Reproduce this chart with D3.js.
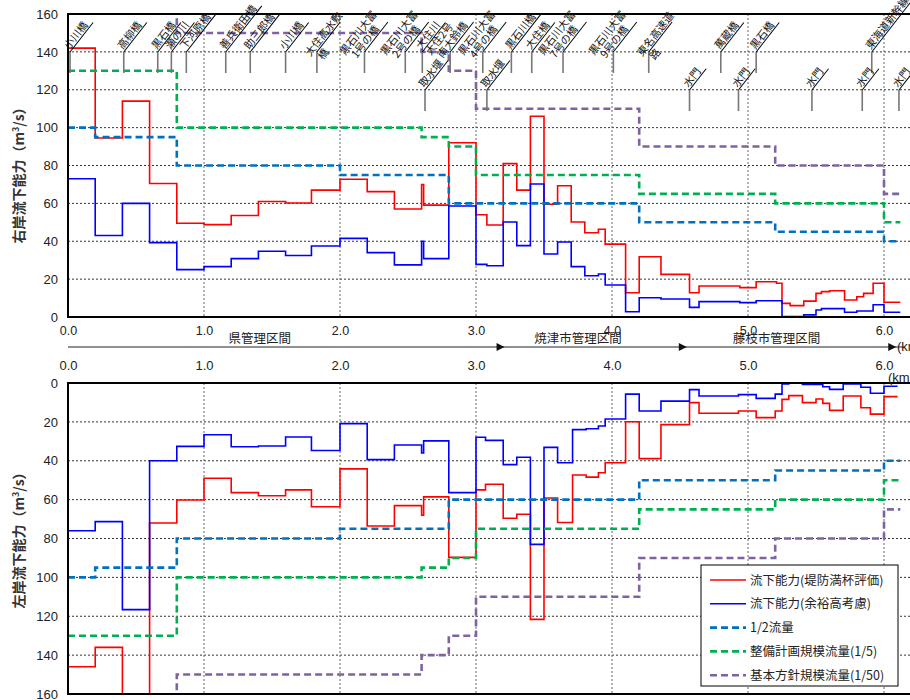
<!DOCTYPE html>
<html>
<head>
<meta charset="utf-8">
<script src="https://cdn.jsdelivr.net/npm/d3@7"></script>
<style>
  body { margin: 0; background: #fff; }
  text { font-family: "Liberation Sans", Arial, sans-serif; }
  .jp { font-family: "Noto Sans CJK JP", sans-serif; }
</style>
</head>
<body>
<div id="chart"></div>
<script>
const width = 910;
const height = 700;

// 距離標 (km) と流下能力 (m3/s) : 右岸
const rKm = [0, 0.2, 0.4, 0.6, 0.8, 1.0, 1.2, 1.4, 1.6, 1.79, 2.0, 2.2, 2.4, 2.6, 2.615, 2.8, 3.0, 3.08, 3.2, 3.3,
  3.4, 3.5, 3.6, 3.7, 3.8, 3.9, 3.95, 4.1, 4.2, 4.36, 4.57, 4.64, 4.94, 5.06, 5.21, 5.25, 5.31, 5.41, 5.5, 5.54,
  5.6, 5.71, 5.8, 5.85, 5.92, 6.0, 6.12];
const rRed = [142, 94.5, 114, 70.5, 49.5, 48.8, 53.6, 61, 60.2, 67, 72.7, 66.2, 57, 70, 59.1, 92, 54, 48.6, 81, 67,
  106, 59.5, 69.3, 50.2, 44.5, 46.3, 38.5, 12.8, 31.8, 22.5, 12.8, 16.4, 15.5, 18.6, 17.8, 7.2, 6, 8.4, 12.5, 13.4,
  13.9, 9, 10.7, 12.5, 17.8, 7.8];
const rBlue = [73, 43, 60, 39.3, 25, 26.6, 30.8, 34.7, 32.5, 37.5, 41.5, 34, 27.5, 40, 30.8, 58.6, 27.8, 27.1, 50.2, 37.7,
  70.2, 33.3, 39.6, 26.6, 21.8, 22.7, 16.9, 2.8, 10.2, 9.5, 5.1, 8.1, 7.6, 8.6, 8.6, 0.2, 0.2, 1.1, 3.7, 4.4,
  4.4, 2.5, 3.2, 3.2, 6.5, 2.5];

// 左岸
const lKm = [0, 0.2, 0.4, 0.6, 0.8, 1.0, 1.2, 1.4, 1.6, 1.79, 2.0, 2.2, 2.4, 2.6, 2.615, 2.8, 3.0, 3.07, 3.2, 3.3,
  3.4, 3.5, 3.6, 3.71, 3.81, 3.9, 3.95, 4.1, 4.2, 4.36, 4.57, 4.64, 4.93, 5.06, 5.2, 5.25, 5.3, 5.4, 5.5, 5.55,
  5.6, 5.7, 5.83, 5.9, 6.0, 6.1];
const lRed = [146, 136, 175, 72, 60.2, 49, 56.4, 58, 55, 63.7, 44.2, 73.6, 63.1, 68, 58.6, 89.7, 55, 52.1, 69.6, 67.5,
  121.6, 59.2, 71.8, 47.3, 48.4, 46.2, 41, 19.9, 38.9, 21.4, 10.1, 15.6, 14.4, 17.8, 14.4, 8.4, 6.5, 10.1, 8.2, 10.5,
  14.1, 6.7, 12.7, 16, 7];
const lBlue = [76, 71.3, 116.6, 40, 32.6, 26.6, 32.8, 32.4, 27.8, 34.7, 20.9, 39.4, 31.9, 36, 29.8, 56.4, 27.9, 29.5, 42, 38.2,
  83, 33.1, 41, 24, 23.5, 22.1, 18.5, 5.7, 14.4, 9.3, 3.4, 6.7, 6, 7.9, 5.7, 0.5, 0, 0.7, 0.7, 1.9,
  3.3, 0.5, 2.2, 5.3, 1.7];

// 目標流量 (両岸共通)
const halfKm = [0, 0.2, 0.8, 2.0, 2.8, 4.2, 5.2, 6.0, 6.12];
const halfVal = [100, 95, 80, 75, 60, 50, 45, 40];
const planKm = [0, 0.8, 2.6, 2.8, 3.0, 4.2, 5.2, 6.0, 6.12];
const planVal = [130, 100, 95, 90, 75, 65, 60, 50];
const basicKm = [0, 0.8, 2.6, 2.8, 3.0, 4.2, 5.2, 6.0, 6.12];
const basicVal = [170, 150, 140, 130, 110, 90, 80, 65];

// 構造物
const bridgeNames = ["小川橋", "高柳橋", "黒石橋", "瀬の川", "下河原橋", "善兵衛田橋", "助三郎橋", "小川橋",
  "大住高水敷\n橋", "黒石川大富\n1号の橋", "黒石川大富\n2号の橋", "大住川", "大住2号\n南大鈴橋",
  "黒石川大富\n4号の橋", "黒石川橋", "大住橋", "黒石川大富\n7号の橋", "黒石川大富\n9号の橋",
  "東名高速道\n路", "萬蔵橋", "黒石橋", "東海道新幹線"];
const bridgeKm = [0.015, 0.41, 0.66, 0.76, 0.87, 1.16, 1.34, 1.6, 1.83, 2.18, 2.48, 2.605, 2.81,
  3.05, 3.26, 3.41, 3.64, 4.01, 4.27, 4.8, 5.06, 5.91];
const gateNames = ["取水堰", "取水堰", "水門", "水門", "水門", "水門", "水門"];
const gateKm = [2.625, 3.08, 4.57, 4.93, 5.47, 5.84, 6.11];

// 管理区間
const sectionNames = ["県管理区間", "焼津市管理区間", "藤枝市管理区間"];
const sectionEnd = [3.21, 4.55, 6.09];
const sectionLabelKm = [1.41, 3.75, 5.21];

const yTicks = [0, 20, 40, 60, 80, 100, 120, 140, 160];
const kmTicks = [0, 1, 2, 3, 4, 5, 6];

const SERIES = [
  { key: "red", label: "流下能力(堤防満杯評価)", color: "#FF0000", dash: null },
  { key: "blue", label: "流下能力(余裕高考慮)", color: "#0000FF", dash: null },
  { key: "half", label: "1/2流量", color: "#0070C0", dash: "7,4" },
  { key: "plan", label: "整備計画規模流量(1/5)", color: "#00B050", dash: "7,4" },
  { key: "basic", label: "基本方針規模流量(1/50)", color: "#7F62A0", dash: "7,4" }
];

const svg = d3.select("#chart")
  .append("svg")
  .attr("width", width)
  .attr("height", height);

const x = d3.scaleLinear().domain([0, 6.25]).range([68, 918]);
const yTop = d3.scaleLinear().domain([0, 160]).range([317, 14]);
const yBot = d3.scaleLinear().domain([0, 160]).range([383, 694]);

const steps = (km, val) => {
  const pts = val.map((v, i) => [km[i], v]);
  pts.push([km[km.length - 1], val[val.length - 1]]);
  return pts;
};

function drawPanel(id, y, red, blue, km) {
  const g = svg.append("g");
  const [y0, y1] = y.range();
  const top = Math.min(y0, y1), bottom = Math.max(y0, y1);

  svg.append("clipPath").attr("id", id)
    .append("rect")
    .attr("x", 68).attr("y", top)
    .attr("width", width - 68).attr("height", bottom - top);

  // grid
  g.selectAll("line.hgrid")
    .data(yTicks.filter(t => t > 0 && t < 160))
    .enter().append("line")
    .attr("x1", 68).attr("x2", width)
    .attr("y1", d => y(d)).attr("y2", d => y(d))
    .attr("stroke", "#000").attr("stroke-width", 0.8)
    .attr("stroke-dasharray", "2,2");

  g.selectAll("line.vgrid")
    .data(kmTicks.filter(t => t > 0))
    .enter().append("line")
    .attr("x1", d => x(d)).attr("x2", d => x(d))
    .attr("y1", top).attr("y2", bottom)
    .attr("stroke", "#666").attr("stroke-width", 1)
    .attr("stroke-dasharray", "2,2");

  const line = d3.line()
    .x(d => x(d[0]))
    .y(d => y(d[1]))
    .curve(d3.curveStepAfter);

  const data = {
    red: steps(km, red),
    blue: steps(km, blue),
    half: steps(halfKm, halfVal),
    plan: steps(planKm, planVal),
    basic: steps(basicKm, basicVal)
  };

  const plot = g.append("g").attr("clip-path", `url(#${id})`);
  SERIES.forEach(s => {
    plot.append("path")
      .attr("d", line(data[s.key]))
      .attr("fill", "none")
      .attr("stroke", s.color)
      .attr("stroke-width", s.dash ? 2.6 : 1.6)
      .attr("stroke-dasharray", s.dash);
  });

  // frame
  g.append("line").attr("x1", 68).attr("x2", 68).attr("y1", top).attr("y2", bottom)
    .attr("stroke", "#000").attr("stroke-width", 2);
  [top, bottom].forEach(v => {
    g.append("line").attr("x1", 67).attr("x2", width).attr("y1", v).attr("y2", v)
      .attr("stroke", "#000").attr("stroke-width", 2);
  });

  const yAxis = g.append("g")
    .attr("transform", "translate(68,0)")
    .call(d3.axisLeft(y).tickValues(yTicks).tickSize(0).tickPadding(10).tickFormat(d3.format("d")));
  yAxis.select(".domain").remove();
  yAxis.selectAll("text").style("font-size", "13px").style("font-family", "Liberation Sans, Arial, sans-serif")
    .attr("fill", "#222");
  return g;
}

drawPanel("clipTop", yTop, rRed, rBlue, rKm);
drawPanel("clipBot", yBot, lRed, lBlue, lKm);

// x axes
const xTop = svg.append("g")
  .attr("transform", "translate(0,322)")
  .call(d3.axisBottom(x).tickValues(kmTicks).tickSize(0).tickPadding(4).tickFormat(d3.format(".1f")));
xTop.select(".domain").remove();
xTop.selectAll("text").style("font-size", "12.5px").style("font-family", "Liberation Sans Narrow, Liberation Sans, sans-serif")
  .attr("fill", "#222");

const xBot = svg.append("g")
  .attr("transform", "translate(0,372)")
  .call(d3.axisTop(x).tickValues(kmTicks).tickSize(0).tickPadding(2).tickFormat(d3.format(".1f")));
xBot.select(".domain").remove();
xBot.selectAll("text").style("font-size", "13px").attr("fill", "#222");

svg.append("text").attr("x", 897).attr("y", 351).style("font-size", "13px").attr("fill", "#222").text("(km");
svg.append("text").attr("x", 888).attr("y", 382).style("font-size", "13px").attr("fill", "#222").text("(km");

// 管理区間の矢印
svg.append("line").attr("x1", 68).attr("x2", 905).attr("y1", 347).attr("y2", 347)
  .attr("stroke", "#222").attr("stroke-width", 1.2);
sectionEnd.forEach(k => {
  const px = x(k);
  svg.append("path")
    .attr("d", `M${px - 8},${343} L${px},${347} L${px - 8},${351} Z`)
    .attr("fill", "#111");
});
sectionNames.forEach((n, i) => {
  svg.append("text")
    .attr("class", "jp")
    .attr("x", x(sectionLabelKm[i]))
    .attr("y", 343)
    .attr("text-anchor", "middle")
    .style("font-size", "12.5px")
    .attr("fill", "#222")
    .text(n);
});

// y titles
function yTitle(cx, cy, prefix) {
  const t = svg.append("text")
    .attr("class", "jp")
    .attr("transform", `translate(${cx},${cy}) rotate(-90)`)
    .attr("text-anchor", "middle")
    .style("font-size", "14px")
    .style("font-weight", "bold")
    .attr("fill", "#333");
  t.append("tspan").text(prefix + "（m");
  t.append("tspan").attr("dy", -5).style("font-size", "9px").text("3");
  t.append("tspan").attr("dy", 5).text("/s）");
}
yTitle(24, 172, "右岸流下能力");
yTitle(24, 537, "左岸流下能力");

// 構造物ラベル
const ann = svg.append("g");
function structLabel(km, name, row) {
  const px = x(km);
  const ya = row === 1 ? 52 : 90;
  const yb = row === 1 ? 73 : 111;
  ann.append("line").attr("x1", px).attr("x2", px).attr("y1", ya).attr("y2", yb)
    .attr("stroke", "#777").attr("stroke-width", 1.6);

  const g = ann.append("g").attr("transform", `translate(${px},${ya}) rotate(-52)`);
  const lines = name.split("\n");
  let pos;
  if (lines.length === 1) pos = [[1, -2]];
  else if (lines[1].length === 1) pos = [[-8, -2], [-3, 10]];
  else pos = [[-15, -13], [-10, -2]];

  let w = 0;
  lines.forEach((l, i) => {
    const t = g.append("text")
      .attr("class", "jp")
      .attr("x", pos[i][0]).attr("y", pos[i][1])
      .style("font-size", "10.5px")
      .attr("fill", "#111")
      .text(l);
    w = Math.max(w, t.node().getComputedTextLength());
  });
  const len = lines.length === 1 ? w + 6 : 38;
  g.append("line").attr("x1", 0).attr("x2", len).attr("y1", 0).attr("y2", 0)
    .attr("stroke", "#000").attr("stroke-width", 1);
}
bridgeNames.forEach((n, i) => structLabel(bridgeKm[i], n, 1));
gateNames.forEach((n, i) => structLabel(gateKm[i], n, 2));

// legend
const legend = svg.append("g").attr("transform", "translate(701,565)");
legend.append("rect")
  .attr("width", 197).attr("height", 121)
  .attr("fill", "#fff").attr("stroke", "#000").attr("stroke-width", 1);
SERIES.forEach((s, i) => {
  const yy = 15 + i * 23.8;
  legend.append("line")
    .attr("x1", 9).attr("x2", 45).attr("y1", yy).attr("y2", yy)
    .attr("stroke", s.color)
    .attr("stroke-width", s.dash ? 2.6 : 1.6)
    .attr("stroke-dasharray", s.dash);
  legend.append("text")
    .attr("class", "jp")
    .attr("x", 49).attr("y", yy + 4.5)
    .style("font-size", "12.5px")
    .attr("fill", "#222")
    .text(s.label);
});
</script>
</body>
</html>
